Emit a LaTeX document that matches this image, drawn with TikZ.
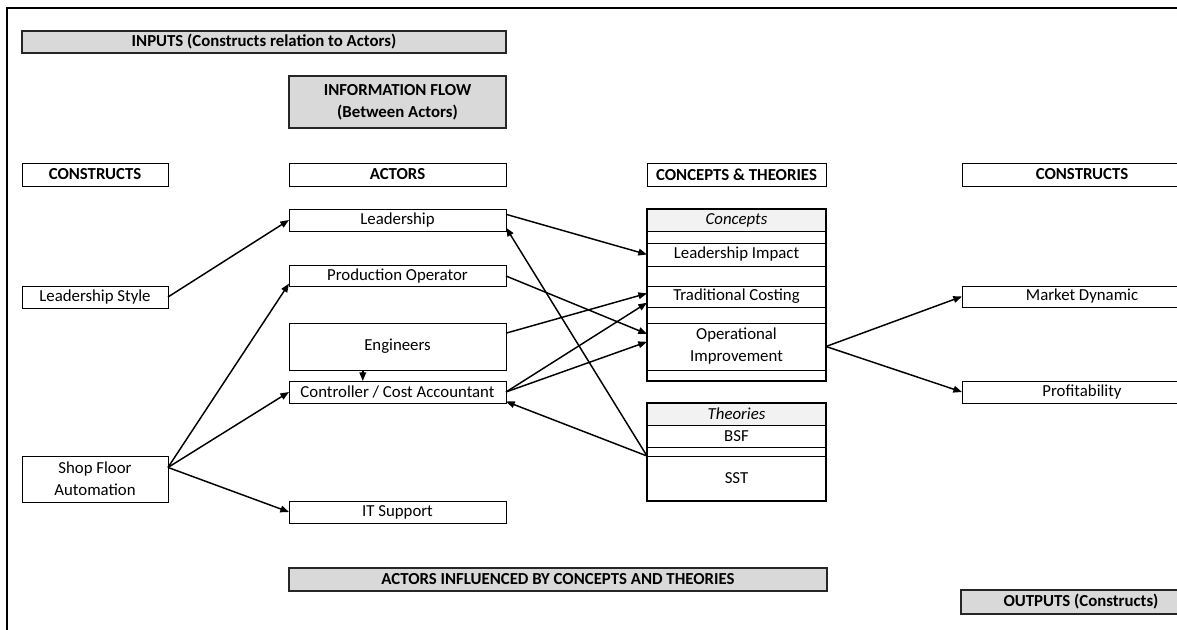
\documentclass[tikz,border=0pt]{standalone}
\usepackage{fontspec}
\setmainfont{Carlito}
\usetikzlibrary{arrows.meta, calc}

\definecolor{bannergray}{HTML}{D9D9D9}
\definecolor{tablegray}{HTML}{F2F2F2}

\begin{document}
\begin{tikzpicture}[
    x=0.75pt, y=-0.75pt,
    cell/.style={
        draw,
        line width=0.7pt,
        inner sep=0pt,
        outer sep=0pt,
        align=center,
        font=\fontsize{12.6pt}{16.5pt}\selectfont,
    },
    heading/.style={
        cell,
        font=\bfseries\fontsize{12.6pt}{16.5pt}\selectfont,
    },
    banner/.style={
        heading,
        fill=bannergray,
        draw=black!85,
        line width=0.9pt,
    },
    tablehead/.style={
        cell,
        fill=tablegray,
        font=\itshape\fontsize{12.6pt}{16.5pt}\selectfont,
    },
    tall/.style={minimum height=#1*0.75pt},
    colL/.style={minimum width=109.5pt},
    colA/.style={minimum width=162.75pt},
    colC/.style={minimum width=134.25pt},
    colR/.style={minimum width=180pt, anchor=west},
    tableframe/.style={line width=1.1pt},
    flow/.style={
        line width=1.1pt,
        -{Triangle[length=6.5pt,width=5pt]},
    },
]
    \clip (0,0) rectangle (1177,630);

    % Frame
    \draw[line width=0.9pt] (1177,8) -- (7,8) -- (7,630);

    % Banners
    \node[banner, minimum width=363pt, tall=22] (inputs) at (264,42) {INPUTS (Constructs relation to Actors)};
    \node[banner, colA, tall=52] (infoflow) at (397.5,102) {INFORMATION FLOW\\(Between Actors)};
    \node[banner, minimum width=403.5pt, tall=23] (influenced) at (558,579.5) {ACTORS INFLUENCED BY CONCEPTS AND THEORIES};
    \node[banner, colR, tall=24] (outputs) at (961,602) {OUTPUTS (Constructs)};

    % Column headings
    \node[heading, colL, tall=23] (hConstructsIn) at (95,174.5) {CONSTRUCTS};
    \node[heading, colA, tall=23] (hActors) at (397.5,174.5) {ACTORS};
    \node[heading, colC, tall=23] (hConcepts) at (736.5,174.5) {CONCEPTS \& THEORIES};
    \node[heading, colR, tall=23] (hConstructsOut) at (962,174.5) {CONSTRUCTS};

    % Input constructs
    \node[cell, colL, tall=22] (lstyle) at (95,297) {Leadership Style};
    \node[cell, colL, tall=46] (shopfloor) at (95,479) {Shop Floor\\Automation};

    % Actors
    \node[cell, colA, tall=22] (leader) at (397.5,220) {Leadership};
    \node[cell, colA, tall=21] (operator) at (397.5,276) {Production Operator};
    \node[cell, colA, tall=47] (engineers) at (397.5,346.5) {Engineers};
    \node[cell, colA, tall=22] (controller) at (397.5,392) {Controller / Cost Accountant};
    \node[cell, colA, tall=22] (itsupport) at (397.5,512) {IT Support};

    % Concepts
    \node[tablehead, colC, tall=22] (cHead) at (736.5,220) {Concepts};
    \node[cell, colC, tall=12] (cGap1) at (736.5,237) {};
    \node[cell, colC, tall=23] (impact) at (736.5,254.5) {Leadership Impact};
    \node[cell, colC, tall=20] (cGap2) at (736.5,276) {};
    \node[cell, colC, tall=21] (costing) at (736.5,296.5) {Traditional Costing};
    \node[cell, colC, tall=16] (cGap3) at (736.5,315) {};
    \node[cell, colC, tall=47] (opimprove) at (736.5,346.5) {Operational\\Improvement};
    \node[cell, colC, tall=11] (cEnd) at (736.5,375.5) {};
    \draw[tableframe] (cHead.north west) rectangle (cEnd.south east);

    % Theories
    \node[tablehead, colC, tall=22] (tHead) at (736.5,414) {Theories};
    \node[cell, colC, tall=22] (bsf) at (736.5,436) {BSF};
    \node[cell, colC, tall=9] (tGap) at (736.5,451.5) {};
    \node[cell, colC, tall=45] (sst) at (736.5,478.5) {SST};
    \draw[tableframe] (tHead.north west) rectangle (sst.south east);

    % Output constructs
    \node[cell, colR, tall=21] (market) at (962,296.5) {Market Dynamic};
    \node[cell, colR, tall=22] (profit) at (962,392) {Profitability};

    % Inputs to actors
    \draw[flow] (lstyle.east) -- (leader.west);
    \draw[flow] (shopfloor.9) -- (operator.184);
    \draw[flow] (shopfloor.9) -- (controller.west);
    \draw[flow] (shopfloor.9) -- (itsupport.west);
    \draw[flow] ($(engineers.south west)!0.34!(engineers.south east)$)
        -- ($(controller.north west)!0.34!(controller.north east)$);

    % Actors to concepts
    \draw[flow] (leader.3) -- (impact.west);
    \draw[flow] (operator.east) -- (opimprove.172);
    \draw[flow] (engineers.7) -- (costing.178);
    \draw[flow] (controller.east) -- (costing.184);
    \draw[flow] (controller.east) -- (opimprove.177);

    % Theories back to actors
    \draw[flow] (sst.north west) -- (leader.-4);
    \draw[flow] (sst.north west) -- (controller.-5);

    % Concepts to outputs
    \draw[flow] (opimprove.east) -- (market.west);
    \draw[flow] (opimprove.east) -- (profit.west);
\end{tikzpicture}
\end{document}
